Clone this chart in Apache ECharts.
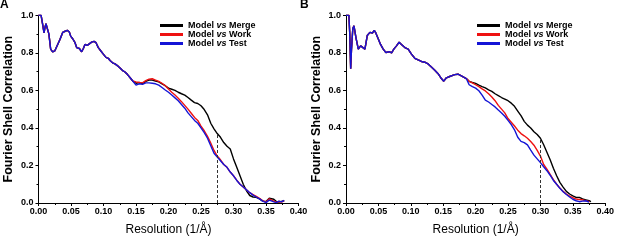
<!DOCTYPE html>
<html>
<head>
<meta charset="UTF-8">
<title>FSC curves</title>
<script src="https://cdn.jsdelivr.net/npm/echarts@6/dist/echarts.min.js"></script>
<style>
  body { margin: 0; background: #fff; }
  #main { width: 617px; height: 241px; }
</style>
</head>
<body>
<div id="main"></div>
<script>
// series names
var names = ['Model vs Merge', 'Model vs Work', 'Model vs Test'];
var colors = ['#000000', '#ee1111', '#1414d6'];

// panel A: common part of the three curves (resolution, FSC)
var headA = [[0,1],[0.004,1],[0.006,0.96],[0.0085,0.906],[0.01,0.935],[0.0115,0.955],[0.0136,0.958],[0.016,0.9],[0.0187,0.82],[0.0218,0.805],[0.025,0.81],[0.028,0.819],[0.033,0.871],[0.0372,0.909],[0.041,0.915],[0.0443,0.92],[0.0474,0.911],[0.0495,0.889],[0.0526,0.875],[0.0562,0.854],[0.0587,0.828],[0.0628,0.823],[0.0664,0.806],[0.069,0.823],[0.0715,0.845],[0.075,0.84],[0.078,0.85],[0.0818,0.857],[0.0854,0.861],[0.0885,0.854],[0.092,0.828],[0.0957,0.811],[0.0997,0.793],[0.1038,0.776],[0.1074,0.771],[0.11,0.759],[0.114,0.747],[0.1177,0.741],[0.1213,0.732],[0.1254,0.719],[0.129,0.707],[0.133,0.698],[0.137,0.684],[0.141,0.667],[0.145,0.65]];
var mergeA = [[0.15,0.638],[0.155,0.642],[0.16,0.636],[0.165,0.648],[0.17,0.655],[0.175,0.655],[0.18,0.65],[0.185,0.645],[0.19,0.635],[0.195,0.625],[0.2,0.612],[0.205,0.606],[0.21,0.6],[0.215,0.59],[0.22,0.582],[0.225,0.575],[0.23,0.562],[0.235,0.548],[0.24,0.535],[0.245,0.53],[0.25,0.518],[0.255,0.498],[0.26,0.47],[0.265,0.425],[0.27,0.395],[0.275,0.37],[0.28,0.35],[0.285,0.322],[0.29,0.302],[0.295,0.288],[0.3,0.235],[0.305,0.19],[0.31,0.145],[0.315,0.1],[0.32,0.065],[0.325,0.04],[0.33,0.032],[0.335,0.03],[0.34,0.022],[0.345,0.01],[0.35,0.008],[0.355,0.025],[0.358,0.03],[0.362,0.02],[0.366,0.008],[0.37,0.005],[0.375,0.01],[0.378,0.012]];
var workA = [[0.15,0.645],[0.155,0.642],[0.16,0.64],[0.165,0.652],[0.17,0.66],[0.175,0.662],[0.18,0.655],[0.185,0.648],[0.19,0.638],[0.195,0.625],[0.2,0.607],[0.205,0.59],[0.21,0.575],[0.215,0.558],[0.22,0.54],[0.225,0.52],[0.23,0.5],[0.235,0.478],[0.24,0.456],[0.245,0.44],[0.25,0.41],[0.255,0.385],[0.26,0.355],[0.265,0.32],[0.27,0.28],[0.275,0.25],[0.28,0.23],[0.285,0.205],[0.29,0.19],[0.295,0.165],[0.3,0.145],[0.305,0.122],[0.31,0.1],[0.315,0.085],[0.32,0.07],[0.325,0.055],[0.33,0.045],[0.335,0.035],[0.34,0.025],[0.345,0.012],[0.35,0.005],[0.355,0.022],[0.358,0.028],[0.362,0.01],[0.366,0.003],[0.37,0.008],[0.374,0.005],[0.378,0.012]];
var testA = [[0.15,0.628],[0.155,0.635],[0.16,0.632],[0.165,0.64],[0.17,0.64],[0.175,0.638],[0.18,0.635],[0.185,0.628],[0.19,0.615],[0.195,0.602],[0.2,0.59],[0.205,0.575],[0.21,0.56],[0.215,0.545],[0.22,0.525],[0.225,0.505],[0.23,0.48],[0.235,0.46],[0.24,0.44],[0.245,0.425],[0.25,0.4],[0.255,0.375],[0.26,0.345],[0.265,0.305],[0.27,0.265],[0.275,0.245],[0.28,0.225],[0.285,0.205],[0.29,0.19],[0.295,0.165],[0.3,0.145],[0.305,0.12],[0.31,0.1],[0.315,0.085],[0.32,0.07],[0.325,0.055],[0.33,0.042],[0.335,0.032],[0.34,0.022],[0.345,0.01],[0.35,0.002],[0.355,0.015],[0.358,0.02],[0.362,0.006],[0.366,0.002],[0.37,0.01],[0.374,0.006],[0.378,0.014]];
var cutoffA = [0.275, 0.365];

// panel B
var headB = [[0,1],[0.0045,1],[0.0058,0.9],[0.0072,0.715],[0.0085,0.82],[0.0105,0.93],[0.0123,0.944],[0.0154,0.88],[0.019,0.82],[0.0226,0.837],[0.0256,0.84],[0.0292,0.82],[0.0328,0.892],[0.0369,0.909],[0.041,0.906],[0.0436,0.92],[0.046,0.906],[0.0497,0.875],[0.0533,0.845],[0.0574,0.82],[0.0615,0.802],[0.0667,0.806],[0.0703,0.8],[0.0738,0.82],[0.0779,0.837],[0.082,0.857],[0.0856,0.845],[0.0908,0.828],[0.0959,0.82],[0.101,0.793],[0.1062,0.771],[0.1113,0.762],[0.1164,0.754],[0.1215,0.75],[0.1267,0.741],[0.1318,0.724],[0.137,0.707],[0.1421,0.689],[0.1472,0.663],[0.1508,0.649],[0.1549,0.667],[0.16,0.674],[0.1677,0.684],[0.1728,0.686],[0.178,0.677],[0.1856,0.663]];
var mergeB = [[0.19,0.648],[0.195,0.642],[0.2,0.637],[0.205,0.628],[0.21,0.62],[0.215,0.613],[0.22,0.603],[0.225,0.595],[0.23,0.582],[0.235,0.572],[0.24,0.562],[0.245,0.554],[0.25,0.545],[0.255,0.532],[0.26,0.515],[0.265,0.49],[0.27,0.465],[0.275,0.435],[0.28,0.415],[0.285,0.4],[0.29,0.38],[0.295,0.365],[0.3,0.345],[0.305,0.31],[0.31,0.27],[0.315,0.23],[0.32,0.185],[0.325,0.145],[0.33,0.11],[0.335,0.085],[0.34,0.062],[0.345,0.048],[0.35,0.038],[0.355,0.03],[0.36,0.03],[0.365,0.022],[0.37,0.017],[0.375,0.012],[0.378,0.007]];
var workB = [[0.19,0.648],[0.195,0.64],[0.2,0.63],[0.205,0.62],[0.21,0.608],[0.215,0.597],[0.22,0.582],[0.225,0.565],[0.23,0.545],[0.235,0.52],[0.24,0.5],[0.245,0.48],[0.25,0.45],[0.255,0.43],[0.26,0.41],[0.265,0.388],[0.27,0.37],[0.275,0.358],[0.28,0.345],[0.285,0.328],[0.29,0.308],[0.295,0.28],[0.3,0.25],[0.305,0.205],[0.31,0.18],[0.315,0.152],[0.32,0.125],[0.325,0.1],[0.33,0.08],[0.335,0.062],[0.34,0.048],[0.345,0.037],[0.35,0.028],[0.355,0.021],[0.36,0.019],[0.365,0.017],[0.37,0.012],[0.376,0.007]];
var testB = [[0.19,0.63],[0.195,0.62],[0.2,0.612],[0.205,0.598],[0.21,0.575],[0.215,0.548],[0.22,0.538],[0.225,0.525],[0.23,0.512],[0.235,0.495],[0.24,0.48],[0.245,0.462],[0.25,0.44],[0.255,0.418],[0.26,0.39],[0.265,0.35],[0.27,0.328],[0.275,0.322],[0.28,0.31],[0.285,0.282],[0.29,0.255],[0.295,0.235],[0.3,0.215],[0.305,0.193],[0.31,0.172],[0.315,0.148],[0.32,0.12],[0.325,0.1],[0.33,0.078],[0.335,0.06],[0.34,0.045],[0.345,0.032],[0.35,0.02],[0.355,0.012],[0.36,0.007],[0.365,0.01],[0.37,0.012],[0.375,0.005]];
var cutoffB = [0.30, 0.342];

var font = 'Liberation Sans, Arial, sans-serif';

function xAx(idx) {
    return {
        type: 'value', gridIndex: idx, min: 0, max: 0.4, interval: 0.05,
        name: 'Resolution (1/Å)', nameLocation: 'middle', nameGap: 21,
        nameTextStyle: { fontFamily: font, fontSize: 12, color: '#000' },
        axisLine: { lineStyle: { color: '#000', width: 1 } },
        axisTick: { show: true, inside: false, length: 3, lineStyle: { color: '#000' } },
        minorTick: { show: true, splitNumber: 2, length: 2, lineStyle: { color: '#000' } },
        splitLine: { show: false },
        axisLabel: { fontFamily: font, fontSize: 9, fontWeight: 'bold', color: '#000', margin: 4,
            formatter: function (v) { return v.toFixed(2); } }
    };
}
function yAx(idx) {
    return {
        type: 'value', gridIndex: idx, min: 0, max: 1, interval: 0.2,
        name: 'Fourier Shell Correlation', nameLocation: 'middle', nameGap: 23,
        nameTextStyle: { fontFamily: font, fontSize: 12.5, fontWeight: 'bold', color: '#000' },
        axisLine: { show: true, lineStyle: { color: '#000', width: 1 } },
        axisTick: { show: true, inside: false, length: 3, lineStyle: { color: '#000' } },
        minorTick: { show: true, splitNumber: 2, length: 2, lineStyle: { color: '#000' } },
        splitLine: { show: false },
        axisLabel: { fontFamily: font, fontSize: 9, fontWeight: 'bold', color: '#000', margin: 5,
            formatter: function (v) { return v.toFixed(1); } }
    };
}
function legendAt(left) {
    return {
        orient: 'vertical', left: left, top: 21, padding: 0,
        itemWidth: 23, itemHeight: 3, itemGap: 0,
        icon: 'rect', data: names, selectedMode: false,
        formatter: function (n) {
            var p = n.split(' vs ');
            return '{a|' + p[0] + ' }{b|vs}{a| ' + p[1] + '}';
        },
        textStyle: {
            rich: {
                a: { fontFamily: font, fontSize: 9, fontWeight: 'bold', color: '#000', lineHeight: 9 },
                b: { fontFamily: font, fontSize: 9, fontWeight: 'bold', fontStyle: 'italic', color: '#000', lineHeight: 9 }
            }
        }
    };
}
function line(name, color, data, gi, cutoff) {
    var s = {
        name: name, type: 'line', xAxisIndex: gi, yAxisIndex: gi, data: data,
        showSymbol: false, symbol: 'none', lineStyle: { color: color, width: 1.4 },
        itemStyle: { color: color }, animation: false
    };
    if (cutoff) {
        s.markLine = {
            silent: true, symbol: 'none', label: { show: false },
            lineStyle: { color: '#333', type: [3, 2], width: 1 },
            data: [[{ coord: [cutoff[0], 0] }, { coord: [cutoff[0], cutoff[1]] }]]
        };
    }
    return s;
}

var chart = echarts.init(document.getElementById('main'));
chart.setOption({
    backgroundColor: '#fff',
    animation: false,
    title: [
        { text: 'A', left: 0, top: -1, padding: 0, textStyle: { fontFamily: font, fontSize: 12, fontWeight: 'bold', color: '#000' } },
        { text: 'B', left: 300, top: -1, padding: 0, textStyle: { fontFamily: font, fontSize: 12, fontWeight: 'bold', color: '#000' } }
    ],
    legend: [legendAt(160), legendAt(477)],
    grid: [
        { left: 38.5, top: 15.3, width: 260, height: 192 },
        { left: 346, top: 15.3, width: 260, height: 192 }
    ],
    xAxis: [xAx(0), xAx(1)],
    yAxis: [yAx(0), yAx(1)],
    series: [
        line(names[0], colors[0], headA.concat(mergeA), 0, cutoffA),
        line(names[1], colors[1], headA.concat(workA), 0),
        line(names[2], colors[2], headA.concat(testA), 0),
        line(names[0], colors[0], headB.concat(mergeB), 1, cutoffB),
        line(names[1], colors[1], headB.concat(workB), 1),
        line(names[2], colors[2], headB.concat(testB), 1)
    ]
});
</script>
</body>
</html>
